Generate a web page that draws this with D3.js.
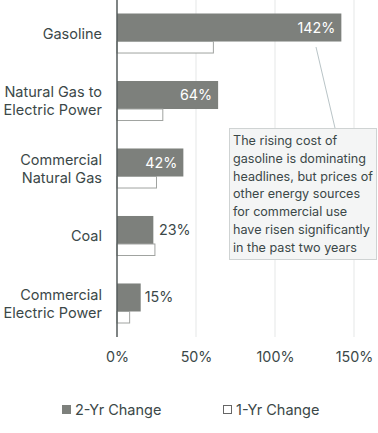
<!DOCTYPE html>
<html><head><meta charset="utf-8">
<script src="https://cdn.jsdelivr.net/npm/d3@7/dist/d3.min.js"></script>
<style>body{margin:0;background:#fff}svg{display:block;font-family:Inter,Roboto,sans-serif}</style>
</head><body>
<script>
const categories = [["Gasoline"],["Natural Gas to","Electric Power"],["Commercial","Natural Gas"],["Coal"],["Commercial","Electric Power"]];
const twoYr = [142, 64, 42, 23, 15];
const oneYr = [61, 29, 25, 24, 8];
const ticks = [0, 50, 100, 150];
const seriesNames = ["2-Yr Change", "1-Yr Change"];
const note = ["The rising cost of","gasoline is dominating","headlines, but prices of","other energy sources","for commercial use","have risen significantly","in the past two years"];

const W = 378, H = 433;
const txt = "#3b4848", barCol = "#7d807c", lineCol = "#a0a3a0";
const svg = d3.select("body").append("svg").attr("width", W).attr("height", H);
const keys = categories.map(c => c.join(" "));
const x = d3.scaleLinear().domain([0, 150]).range([117, 354]);
const y = d3.scaleBand().domain(keys).range([0, 337]).paddingInner(0.407).paddingOuter(0.2);
const bw = y.bandwidth();

svg.append("g").selectAll("line").data(ticks.slice(1)).join("line")
  .attr("x1", d => x(d)).attr("x2", d => x(d)).attr("y1", 0).attr("y2", 337)
  .attr("stroke", "#e5e7e7").attr("stroke-width", 1);

const xa = svg.append("g").attr("transform", "translate(0,337)")
  .call(d3.axisBottom(x).tickValues(ticks).tickFormat(d => d + "%").tickSize(0).tickPadding(15));
xa.select(".domain").remove();
xa.selectAll("text").attr("fill", txt).style("font-size", "14.3px").style("font-family", "Inter,sans-serif");

const g = svg.append("g");
g.selectAll(".b2").data(keys).join("rect")
  .attr("x", x(0)).attr("y", d => y(d)).attr("height", bw * 0.7)
  .attr("width", (d, i) => x(twoYr[i]) - x(0)).attr("fill", barCol);
g.selectAll(".b1").data(keys).join("rect")
  .attr("x", x(0)).attr("y", d => y(d) + bw * 0.7).attr("height", bw * 0.3 - 0.5)
  .attr("width", (d, i) => x(oneYr[i]) - x(0)).attr("fill", "#fff").attr("stroke", lineCol).attr("stroke-width", 1);

g.selectAll(".vl").data(keys).join("text")
  .attr("x", (d, i) => twoYr[i] > 30 ? x(twoYr[i]) - 6 : x(Math.max(twoYr[i], oneYr[i])) + 4)
  .attr("y", d => y(d) + bw * 0.35).attr("dy", "0.35em")
  .attr("text-anchor", (d, i) => twoYr[i] > 30 ? "end" : "start")
  .attr("fill", (d, i) => twoYr[i] > 30 ? "#fff" : txt)
  .style("font-size", "14.3px").text((d, i) => twoYr[i] + "%");

categories.forEach((lines, i) => {
  const cy = y(keys[i]) + bw / 2;
  const t = svg.append("text").attr("text-anchor", "end").attr("fill", txt).style("font-size", "14.5px");
  lines.forEach((l, j) => {
    t.append("tspan").attr("x", 102).attr("y", cy + (j - (lines.length - 1) / 2) * 18).attr("dy", "0.35em").text(l);
  });
});

svg.append("line").attr("x1", x(0)).attr("x2", x(0)).attr("y1", 0).attr("y2", 337)
  .attr("stroke", "#555b5b").attr("stroke-width", 1.5);

svg.append("line").attr("x1", 316).attr("y1", 47).attr("x2", 335).attr("y2", 128)
  .attr("stroke", "#b9c4c7").attr("stroke-width", 1);
svg.append("rect").attr("x", 229.5).attr("y", 128.5).attr("width", 147).attr("height", 131)
  .attr("fill", "#f4f5f5").attr("stroke", "#cfd3d3");
const nt = svg.append("text").attr("fill", txt).style("font-size", "12.6px");
note.forEach((l, j) => nt.append("tspan").attr("x", 233).attr("y", 145 + j * 17.8).text(l));

const lg = svg.append("g");
lg.append("rect").attr("x", 62.5).attr("y", 405.5).attr("width", 8).attr("height", 8).attr("fill", barCol).attr("stroke", barCol);
lg.append("text").attr("x", 75).attr("y", 410).attr("dy", "0.35em").attr("fill", txt).style("font-size", "14.5px").text(seriesNames[0]);
lg.append("rect").attr("x", 223.5).attr("y", 405.5).attr("width", 8).attr("height", 8).attr("fill", "#fff").attr("stroke", "#666");
lg.append("text").attr("x", 236).attr("y", 410).attr("dy", "0.35em").attr("fill", txt).style("font-size", "14.5px").text(seriesNames[1]);
</script>
</body></html>
